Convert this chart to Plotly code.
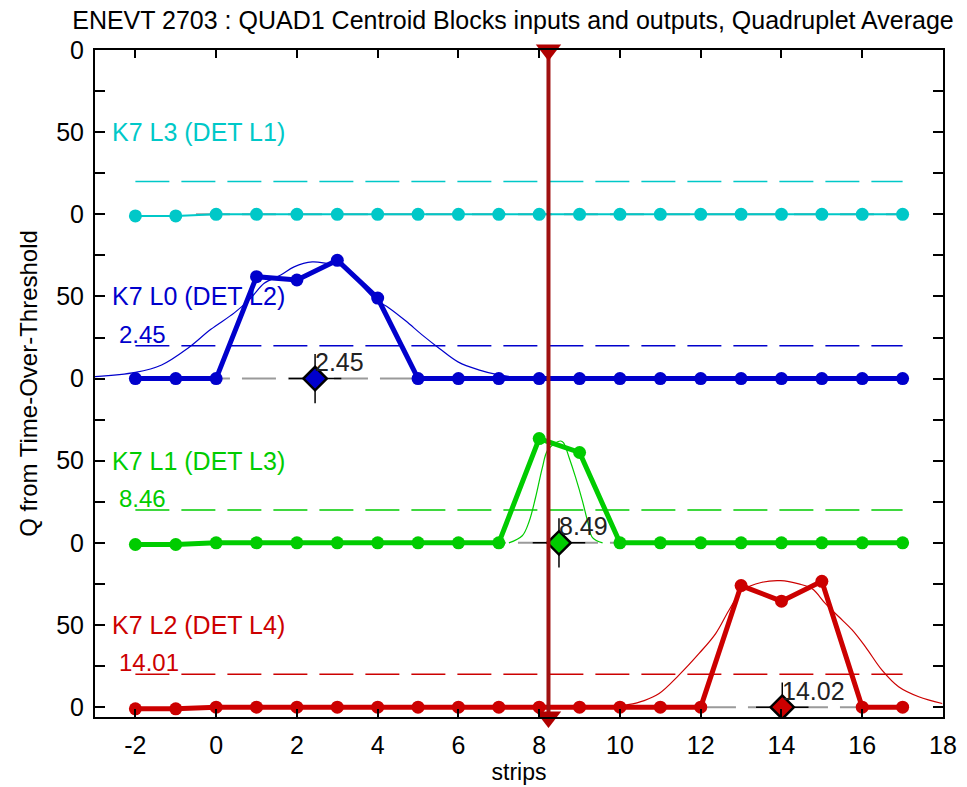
import plotly.graph_objects as go

# ---------------- data ----------------
strips = list(range(-2, 18))

cyan_vals  = [-1, -1] + [0] * 18
blue_vals  = [0, 0, 0, 62, 60, 72, 49] + [0] * 13
green_vals = [-1, -1] + [0] * 8 + [63.5, 55] + [0] * 8
red_vals   = [-1, -1] + [0] * 13 + [74, 64.5, 76.6, 0, 0]

blue_fit_x = [-3.0, -2.0, -1.35, -0.7, -0.13, 0.45, 0.86, 1.19, 1.6, 1.93, 2.38, 2.8, 3.0, 3.4, 3.95, 4.28, 4.7, 5.1, 5.52, 6.0, 6.5, 7.0, 7.5]
blue_fit_y = [1.2, 3.8, 8.3, 18.5, 30, 40, 49, 58, 63, 68, 71, 70, 70, 62, 48, 43, 35, 26.6, 18.5, 10, 5.3, 2.2, 0.5]

green_fit_x = [7.25, 7.58, 7.75, 7.91, 8.08, 8.2, 8.41, 8.53, 8.6, 8.74, 8.9, 9.07, 9.2, 9.32, 9.57]
green_fit_y = [0, 4.3, 13, 27.6, 46, 56, 61, 62, 61, 52, 40, 25.6, 13, 3.2, 0]

red_fit_x = [9.8, 10.2, 10.6, 10.97, 11.46, 11.96, 12.37, 12.7, 13.03, 13.52, 13.98, 14.43, 14.76, 15.09, 15.42, 15.75, 16.08, 16.49, 16.9, 17.4, 17.98]
red_fit_y = [0.3, 1.5, 4, 8.3, 19.5, 32.7, 44.8, 59, 71, 76, 77, 75, 72, 63, 55, 47, 36.7, 22.5, 12.4, 6.3, 2.2]

offsets = [300, 200, 100, 0]
names = ["K7 L3 (DET L1)", "K7 L0 (DET L2)", "K7 L1 (DET L3)", "K7 L2 (DET L4)"]
colors = ["#00C8C8", "#0000CC", "#00CC00", "#CC0000"]
threshold = 20
thr_x = [-2, 17]
base_x = [-0.5, 17]

centroids = [None, 2.45, 8.49, 14.02]
input_labels = [None, "2.45", "8.46", "14.01"]
centroid_labels = [None, "2.45", "8.49", "14.02"]
err_q = 15
err_strip = 0.65

cursor_x = 8.23
x_range = [-3, 18]
y_range = [-6, 400]
x_ticks = list(range(-2, 19, 2))
x_ticktext = ["-2", "0", "2", "4", "6", "8", "10", "12", "14", "16", "18"]
y_ticks = list(range(0, 401, 25))
y_ticktext = ["0", "", "50", ""] * 4 + ["0"]

title = "ENEVT 2703 : QUAD1 Centroid Blocks inputs and outputs, Quadruplet Average"

# ---------------- figure ----------------
FONT = "Liberation Sans, Arial, sans-serif"
fig = go.Figure()

series = [cyan_vals, blue_vals, green_vals, red_vals]
fits = [None, (blue_fit_x, blue_fit_y), (green_fit_x, green_fit_y), (red_fit_x, red_fit_y)]

for i in range(4):
    off = offsets[i]
    col = colors[i]
    fig.add_trace(go.Scatter(x=base_x, y=[off, off], mode="lines",
                             line=dict(color="#9a9a9a", width=2, dash="34px,12px"),
                             hoverinfo="skip", showlegend=False))
    fig.add_trace(go.Scatter(x=thr_x, y=[off + threshold] * 2, mode="lines",
                             line=dict(color=col, width=1.5, dash="34px,12px"),
                             hoverinfo="skip", showlegend=False))
    if fits[i] is not None:
        fx, fy = fits[i]
        fig.add_trace(go.Scatter(x=fx, y=[v + off for v in fy], mode="lines",
                                 line=dict(color=col, width=1.2, shape="spline"),
                                 hoverinfo="skip", showlegend=False))
    fig.add_trace(go.Scatter(x=strips, y=[v + off for v in series[i]], mode="lines+markers",
                             line=dict(color=col, width=2 if i == 0 else 5),
                             marker=dict(color=col, size=13, symbol="circle"),
                             showlegend=False))
    if centroids[i] is not None:
        fig.add_trace(go.Scatter(x=[centroids[i]], y=[off], mode="markers",
                                 marker=dict(symbol="diamond", size=18, color=col,
                                             line=dict(color="black", width=2.5)),
                                 error_x=dict(type="constant", value=err_strip, color="black", thickness=1.5, width=0),
                                 error_y=dict(type="constant", value=err_q, color="black", thickness=1.5, width=0),
                                 showlegend=False))
        fig.add_annotation(x=centroids[i] - 0.05, y=off + 10, text=centroid_labels[i],
                           showarrow=False, xanchor="left", yanchor="middle",
                           font=dict(family=FONT, size=25, color="#222222"))
        fig.add_annotation(x=-2.45, y=off + 27, text=input_labels[i],
                           showarrow=False, xanchor="left", yanchor="middle",
                           font=dict(family=FONT, size=24, color=col))
    fig.add_annotation(x=-2.62, y=off + 50, text=names[i], showarrow=False,
                       xanchor="left", yanchor="middle",
                       font=dict(family=FONT, size=25, color=col))

fig.add_trace(go.Scatter(x=[cursor_x, cursor_x], y=y_range, mode="lines",
                         line=dict(color="#A01010", width=4),
                         hoverinfo="skip", showlegend=False, cliponaxis=False))
fig.add_trace(go.Scatter(x=[cursor_x, cursor_x], y=[y_range[1], y_range[0]], mode="markers",
                         marker=dict(symbol="triangle-down", size=22, color="#B00000"),
                         hoverinfo="skip", showlegend=False, cliponaxis=False))

fig.update_layout(
    width=967, height=787,
    margin=dict(l=95, r=24, t=50, b=70),
    paper_bgcolor="white", plot_bgcolor="white",
    font=dict(family=FONT, size=24, color="black"),
    title=dict(text=title, x=0.5305, xanchor="center", y=0.9746, yanchor="middle",
               font=dict(family=FONT, size=25, color="black")),
    showlegend=False,
)
fig.update_xaxes(range=x_range, tickvals=x_ticks, ticktext=x_ticktext, ticks="inside", ticklen=8,
                 tickwidth=1.5, tickcolor="black", showline=True, linecolor="black", linewidth=2,
                 mirror="ticks", showgrid=False, zeroline=False, ticklabelstandoff=5,
                 automargin=False,
                 title=dict(text="strips", font=dict(family=FONT, size=23), standoff=4),
                 tickfont=dict(family=FONT, size=25, color="black"))
fig.update_yaxes(range=y_range, tickvals=y_ticks, ticktext=y_ticktext, ticks="inside",
                 ticklen=10, tickwidth=1.5, tickcolor="black", showline=True,
                 linecolor="black", linewidth=2, mirror="ticks", showgrid=False,
                 zeroline=False, ticklabelstandoff=4, automargin=False,
                 title=dict(text="Q from Time-Over-Threshold", font=dict(family=FONT, size=24), standoff=12),
                 tickfont=dict(family=FONT, size=25, color="black"))

fig.write_html("out.html", config={"displayModeBar": False},
               post_script="document.body.style.margin='0px';")
